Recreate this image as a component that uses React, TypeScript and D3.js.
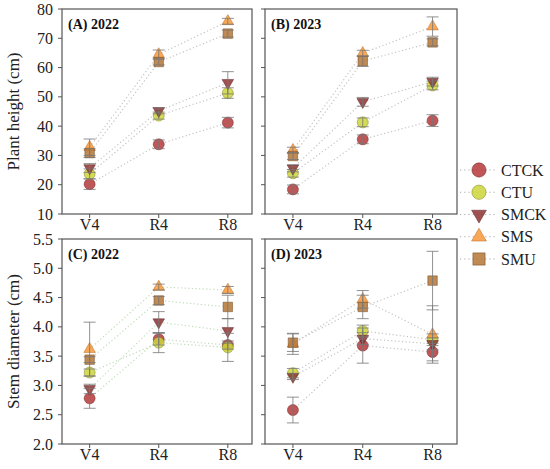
import { useEffect, useRef } from "react";
import * as d3 from "d3";

const stages = ["V4", "R4", "R8"];
const treatments = ["CTCK", "CTU", "SMCK", "SMS", "SMU"];

// rows follow the treatments order, columns follow the stages
const height2022 = [
  [20.2, 33.8, 41.2],
  [23.7, 43.6, 51.3],
  [25.7, 45.2, 54.8],
  [32.8, 64.5, 75.8],
  [30.8, 61.9, 71.6],
];
const height2022Err = [
  [1.8, 1.5, 1.8],
  [1.7, 1.2, 1.8],
  [1.5, 1.0, 3.8],
  [2.8, 1.5, 1.0],
  [1.5, 1.0, 1.2],
];
const height2023 = [
  [18.4, 35.5, 41.9],
  [23.9, 41.3, 53.9],
  [25.6, 48.3, 55.2],
  [31.8, 64.9, 74.0],
  [29.8, 62.2, 68.6],
];
const height2023Err = [
  [1.5, 1.5, 2.0],
  [1.3, 1.5, 1.5],
  [1.2, 1.5, 1.5],
  [1.0, 1.0, 3.3],
  [1.2, 1.8, 1.2],
];
const diameter2022 = [
  [2.78, 3.79, 3.69],
  [3.22, 3.73, 3.65],
  [2.94, 4.08, 3.93],
  [3.62, 4.68, 4.63],
  [3.44, 4.45, 4.34],
];
const diameter2022Err = [
  [0.17, 0.1, 0.07],
  [0.06, 0.17, 0.24],
  [0.08, 0.18, 0.21],
  [0.46, 0.05, 0.06],
  [0.05, 0.07, 0.2],
];
const diameter2023 = [
  [2.58, 3.68, 3.57],
  [3.21, 3.93, 3.78],
  [3.15, 3.8, 3.71],
  [3.71, 4.47, 3.87],
  [3.73, 4.34, 4.79],
];
const diameter2023Err = [
  [0.22, 0.3, 0.15],
  [0.08, 0.1, 0.1],
  [0.05, 0.1, 0.1],
  [0.18, 0.15, 0.49],
  [0.15, 0.2, 0.5],
];

const heightTicks = [10, 20, 30, 40, 50, 60, 70, 80];
const diameterTicks = [2.0, 2.5, 3.0, 3.5, 4.0, 4.5, 5.0, 5.5];

const fills = ["#b5383a", "#cdd63a", "#8e3233", "#f8993a", "#b47636"];
const strokes = ["#6b2020", "#7d7d20", "#5a1f1f", "#b0651d", "#6e4520"];
const shapes = [d3.symbolCircle, d3.symbolCircle, d3.symbolTriangle, d3.symbolTriangle, d3.symbolSquare];
const plotSizes = [95, 95, 58, 58, 90];
const legendSizes = [160, 160, 95, 95, 150];

const font = "Liberation Serif, serif";

export default function App() {
  const svgRef = useRef<SVGSVGElement>(null);

  useEffect(() => {
    if (!svgRef.current) return;
    const svg = d3.select(svgRef.current);
    svg.selectAll("*").remove();

    const panels = [
      { title: "(A) 2022", x0: 62, x1: 252, y0: 9, y1: 214, vals: height2022, errs: height2022Err, ticks: heightTicks, dom: [10, 80], labels: true, fmt: d3.format("d"), line: "#c4c4c4" },
      { title: "(B) 2023", x0: 265, x1: 457, y0: 9, y1: 214, vals: height2023, errs: height2023Err, ticks: heightTicks, dom: [10, 80], labels: false, fmt: d3.format("d"), line: "#c4c4c4" },
      { title: "(C) 2022", x0: 62, x1: 252, y0: 239, y1: 444, vals: diameter2022, errs: diameter2022Err, ticks: diameterTicks, dom: [2, 5.5], labels: true, fmt: d3.format(".1f"), line: "#bfdcb8" },
      { title: "(D) 2023", x0: 265, x1: 457, y0: 239, y1: 444, vals: diameter2023, errs: diameter2023Err, ticks: diameterTicks, dom: [2, 5.5], labels: false, fmt: d3.format(".1f"), line: "#c4c4c4" },
    ];

    const sym = (i: number, size: number) => d3.symbol().type(shapes[i]).size(size)();

    panels.forEach((p) => {
      const x = d3.scaleLinear().domain([-0.4, 2.35]).range([p.x0, p.x1]);
      const y = d3.scaleLinear().domain(p.dom).range([p.y1, p.y0]);
      const g = svg.append("g");

      g.append("rect")
        .attr("x", p.x0)
        .attr("y", p.y0)
        .attr("width", p.x1 - p.x0)
        .attr("height", p.y1 - p.y0)
        .attr("fill", "none")
        .attr("stroke", "#555")
        .attr("stroke-width", 1.2);

      // y ticks
      p.ticks.forEach((t) => {
        g.append("line")
          .attr("x1", p.x0 - 4).attr("x2", p.x0)
          .attr("y1", y(t)).attr("y2", y(t))
          .attr("stroke", "#555");
        if (p.labels) {
          g.append("text")
            .attr("x", p.x0 - 9)
            .attr("y", y(t) + 5.5)
            .attr("text-anchor", "end")
            .attr("font-size", 16)
            .attr("font-family", font)
            .attr("fill", "#222")
            .text(p.fmt(t));
        }
      });

      // x ticks
      stages.forEach((s, j) => {
        g.append("line")
          .attr("x1", x(j)).attr("x2", x(j))
          .attr("y1", p.y1).attr("y2", p.y1 + 4)
          .attr("stroke", "#555");
        g.append("text")
          .attr("x", x(j))
          .attr("y", p.y1 + 16)
          .attr("text-anchor", "middle")
          .attr("font-size", 16)
          .attr("font-family", font)
          .attr("fill", "#222")
          .text(s);
      });

      g.append("text")
        .attr("x", p.x0 + 6)
        .attr("y", p.y0 + 20)
        .attr("font-size", 14)
        .attr("font-weight", "bold")
        .attr("font-family", font)
        .attr("fill", "#111")
        .text(p.title);

      const line = d3.line<number>().x((_, j) => x(j)).y((d) => y(d));

      p.vals.forEach((v) => {
        g.append("path")
          .datum(v)
          .attr("d", line)
          .attr("fill", "none")
          .attr("stroke", p.line)
          .attr("stroke-width", 1.2)
          .attr("stroke-dasharray", "1.2 2.4");
      });

      p.vals.forEach((v, i) => {
        v.forEach((d, j) => {
          g.append("path")
            .attr("d", sym(i, plotSizes[i]))
            .attr("transform", `translate(${x(j)},${y(d)})${i === 2 ? " rotate(180)" : ""}`)
            .attr("fill", fills[i])
            .attr("fill-opacity", 0.85)
            .attr("stroke", strokes[i])
            .attr("stroke-opacity", 0.6)
            .attr("stroke-width", 0.8);
        });
      });

      p.vals.forEach((v, i) => {
        v.forEach((d, j) => {
          const e = p.errs[i][j];
          const cx = x(j);
          const eg = g.append("g").attr("stroke", "#777").attr("stroke-opacity", 0.8).attr("stroke-width", 1);
          eg.append("line").attr("x1", cx).attr("x2", cx).attr("y1", y(d - e)).attr("y2", y(d + e));
          [d - e, d + e].forEach((c) => {
            eg.append("line").attr("x1", cx - 6).attr("x2", cx + 6).attr("y1", y(c)).attr("y2", y(c));
          });
        });
      });
    });

    // axis titles
    svg.append("text")
      .attr("transform", `translate(19,${(9 + 214) / 2}) rotate(-90)`)
      .attr("text-anchor", "middle")
      .attr("font-size", 17)
      .attr("font-family", font)
      .attr("fill", "#222")
      .text("Plant height (cm)");
    svg.append("text")
      .attr("transform", `translate(19,${(239 + 444) / 2}) rotate(-90)`)
      .attr("text-anchor", "middle")
      .attr("font-size", 17)
      .attr("font-family", font)
      .attr("fill", "#222")
      .text("Stem diameter (cm)");

    // legend
    const ly = d3.scalePoint<string>().domain(treatments).range([170, 259]);
    treatments.forEach((t, i) => {
      const yy = ly(t) as number;
      svg.append("line")
        .attr("x1", 460).attr("x2", 497)
        .attr("y1", yy).attr("y2", yy)
        .attr("stroke", "#aaa")
        .attr("stroke-width", 1.2)
        .attr("stroke-dasharray", "1.2 3");
      svg.append("path")
        .attr("d", sym(i, legendSizes[i]))
        .attr("transform", `translate(479,${yy})${i === 2 ? " rotate(180)" : ""}`)
        .attr("fill", fills[i])
        .attr("fill-opacity", 0.85)
        .attr("stroke", strokes[i])
        .attr("stroke-opacity", 0.6)
        .attr("stroke-width", 0.8);
      svg.append("text")
        .attr("x", 501)
        .attr("y", yy + 5.5)
        .attr("font-size", 16)
        .attr("font-family", font)
        .attr("fill", "#222")
        .text(t);
    });
  }, []);

  return (
    <svg
      ref={svgRef}
      width={550}
      height={469}
      style={{ position: "absolute", left: 0, top: 0, background: "#fff" }}
    />
  );
}
